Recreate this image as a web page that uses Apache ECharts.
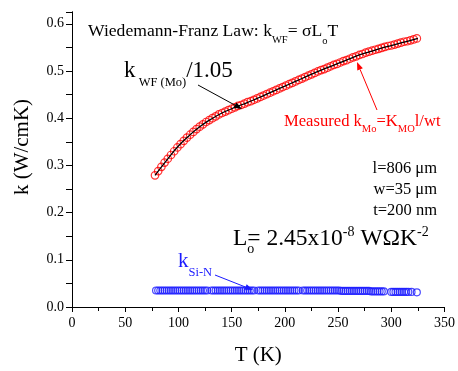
<!DOCTYPE html>
<html>
<head>
<meta charset="utf-8">
<script src="https://cdn.jsdelivr.net/npm/echarts@6/dist/echarts.min.js"></script>
<style>
  html, body { margin: 0; padding: 0; background: #fff; }
  #chart { width: 458px; height: 371px; }
</style>
</head>
<body>
<div id="chart"></div>
<script>
// Measured thermal conductivity of the Mo line, k_Mo (W/cmK) vs T (K)
const moT = [78,81,84,87,90,93,96,99,102,105,108,111,114,117,120,123,126,129,132,135,
  138,141,144,147,150,153,156,159,162,165,168,171,174,177,180,183,186,189,192,195,
  198,201,204,207,210,213,216,219,222,225,228,231,234,237,240,243,246,249,252,255,
  258,261,264,267,270,273,276,279,282,285,288,291,294,297,300,303,306,309,312,315,
  318,321,324];
const moK = [.279,.288,.297,.306,.314,.322,.330,.338,.345,.352,
  .359,.365,.371,.377,.382,.387,.392,.396,.400,.404,
  .408,.411,.414,.417,.420,.423,.426,.428,.431,.434,
  .436,.439,.442,.445,.448,.451,.454,.457,.460,.463,
  .466,.469,.472,.475,.478,.481,.484,.487,.490,.493,
  .496,.499,.502,.504,.507,.510,.513,.515,.518,.521,
  .523,.526,.529,.531,.534,.536,.539,.541,.543,.545,
  .547,.549,.551,.553,.554,.556,.558,.560,.562,.563,
  .565,.567,.569];

// Wiedemann-Franz estimate k_WF(Mo)/1.05
const wfT = [78,90,100,110,120,130,140,150,160,170,180,190,200,210,220,230,240,250,260,270,280,290,300,310,320,325];
const wfK = [.279,.314,.341,.363,.382,.397,.410,.420,.429,.438,.448,.458,.468,.478,.488,.498,.507,.516,.525,.534,.541,.548,.554,.560,.566,.569];

// Silicon nitride membrane, k_Si-N
const sinT = [
  79,81,83,85,87,89,91,93,95,97,99,101,103,105,107,109,111,113,115,117,119,121,123,125,127,
  131,133,135,137,139,141,143,145,147,149,151,153,155,157,159,161,163,165,167,169,171,
  175,177,179,181,183,185,187,189,191,193,195,197,199,201,203,205,207,209,211,213,
  217,219,221,223,225,227,229,231,233,235,237,239,241,243,245,247,249,251,
  253,255,257,259,261,263,265,267,269,271,273,275,277,279,
  281,283,285,287,289,291,293,
  300,302,304,306,308,310,312,314,316,
  319,324];
const sinK = [
  .035,.035,.035,.035,.035,.035,.035,.035,.035,.035,.035,.035,.035,.035,.035,.035,.035,.035,.035,.035,.035,.035,.035,.035,.035,
  .035,.035,.035,.035,.035,.035,.035,.035,.035,.035,.035,.035,.035,.035,.035,.035,.035,.035,.035,.035,.035,
  .035,.035,.035,.035,.035,.035,.035,.035,.035,.035,.035,.035,.035,.035,.035,.035,.035,.035,.035,.035,
  .035,.035,.035,.035,.035,.035,.035,.035,.035,.035,.035,.035,.035,.035,.035,.035,.035,.035,
  .034,.034,.034,.034,.034,.034,.034,.034,.034,.034,.034,.034,.034,.034,
  .033,.033,.033,.033,.033,.033,.033,
  .032,.032,.032,.032,.032,.032,.032,.032,.032,
  .032,.031];

const xTicks = [0, 50, 100, 150, 200, 250, 300, 350];
const yTicks = ['0.0','0.1','0.2','0.3','0.4','0.5','0.6'];

const SERIF = '"Liberation Serif","Times New Roman",serif';
const MID = 0.32; // offset from alphabetic baseline to canvas 'middle'
const mctx = document.createElement('canvas').getContext('2d');
function textWidth(t, s) { mctx.font = s + 'px ' + SERIF; return mctx.measureText(t).width; }

// Lay out a line of text runs (with sub/superscripts) from a baseline
function textRun(x, baseline, parts, color) {
  let cx = x;
  const els = [];
  for (const p of parts) {
    els.push({
      type: 'text', x: cx, y: baseline + (p.dy || 0) - MID * p.s, z: 100,
      style: { text: p.t, font: p.s + 'px ' + SERIF, fill: color, align: 'left', verticalAlign: 'middle' }
    });
    if (!p.keep) cx += textWidth(p.t, p.s);
  }
  return els;
}

function arrow(x1, y1, x2, y2, color) {
  const a = Math.atan2(y2 - y1, x2 - x1), L = 8, W = 3;
  const bx = x2 - L * Math.cos(a), by = y2 - L * Math.sin(a);
  const px = -Math.sin(a) * W, py = Math.cos(a) * W;
  return [
    { type: 'line', z: 100, shape: { x1: x1, y1: y1, x2: bx, y2: by }, style: { stroke: color, lineWidth: 1 } },
    { type: 'polygon', z: 100, shape: { points: [[x2, y2], [bx + px, by + py], [bx - px, by - py]] }, style: { fill: color } }
  ];
}

const pairs = (xs, ys) => xs.map((x, i) => [x, ys[i]]);

const RED = '#ff0000', BLUE = '#1a1aff';

const graphics = [].concat(
  textRun(88, 37.5, [
    { t: 'Wiedemann-Franz Law: k', s: 17.6 },
    { t: 'WF', s: 10.5, dy: 6 },
    { t: '= σL', s: 17.6 },
    { t: 'o', s: 10.5, dy: 7 },
    { t: 'T', s: 17.6 }
  ], '#000'),
  textRun(124, 78, [
    { t: 'k', s: 23 },
    { t: ' WF (Mo)', s: 12.5, dy: 9 },
    { t: '/1.05', s: 23 }
  ], '#000'),
  arrow(198, 85, 242, 109, '#000'),
  textRun(284, 126.5, [
    { t: 'Measured k', s: 16.6 },
    { t: 'Mo', s: 10.5, dy: 6 },
    { t: '=K', s: 16.6 },
    { t: 'MO', s: 10.5, dy: 6 },
    { t: 'l/wt', s: 16.6 }
  ], RED),
  arrow(377, 110, 357, 62, RED),
  textRun(233, 246, [
    { t: 'L', s: 23.5 },
    { t: 'o', s: 14, dy: 8, keep: true },
    { t: '= 2.45x10', s: 23.5 },
    { t: '-8', s: 14, dy: -9.5 },
    { t: ' WΩK', s: 23.5 },
    { t: '-2', s: 14, dy: -9.5 }
  ], '#000'),
  textRun(178, 268.5, [
    { t: 'k', s: 21 },
    { t: 'Si-N', s: 12.5, dy: 8 }
  ], BLUE),
  arrow(215, 275, 253, 290, BLUE),
  [
    { type: 'text', x: 437, y: 173.5 - MID * 16.5, z: 100, style: { text: 'l=806 μm', font: '16.5px ' + SERIF, fill: '#000', align: 'right', verticalAlign: 'middle' } },
    { type: 'text', x: 437, y: 195 - MID * 16.5, z: 100, style: { text: 'w=35 μm', font: '16.5px ' + SERIF, fill: '#000', align: 'right', verticalAlign: 'middle' } },
    { type: 'text', x: 437, y: 215.5 - MID * 16.5, z: 100, style: { text: 't=200 nm', font: '16.5px ' + SERIF, fill: '#000', align: 'right', verticalAlign: 'middle' } },
    { type: 'text', x: 22, y: 147, rotation: Math.PI / 2, z: 100, style: { text: 'k (W/cmK)', font: '21px ' + SERIF, fill: '#000', align: 'center', verticalAlign: 'middle' } }
  ]
);

const axisLine = { show: true, lineStyle: { color: '#000', width: 1 } };
const labelFont = { fontFamily: SERIF, fontSize: 14, color: '#000' };

const chart = echarts.init(document.getElementById('chart'), null, { renderer: 'canvas' });
chart.setOption({
  animation: false,
  backgroundColor: '#fff',
  grid: { left: 72, right: 11, top: 12, bottom: 58, containLabel: false },
  xAxis: [
    {
      type: 'value', position: 'bottom', min: xTicks[0], max: xTicks[xTicks.length - 1], interval: 50,
      axisLine: axisLine,
      axisTick: { show: true, inside: false, length: 5, lineStyle: { color: '#000' } },
      minorTick: { show: true, splitNumber: 2, length: 3, lineStyle: { color: '#000' } },
      splitLine: { show: false },
      axisLabel: Object.assign({ margin: 9 }, labelFont),
      name: 'T (K)', nameLocation: 'middle', nameGap: 38,
      nameTextStyle: { fontFamily: SERIF, fontSize: 21, color: '#000' }
    },
    {
      type: 'value', position: 'top', min: 0, max: 350, interval: 25,
      axisLine: axisLine,
      axisTick: { show: true, inside: true, length: 4, lineStyle: { color: '#000' } },
      axisLabel: { show: false }, splitLine: { show: false }
    }
  ],
  yAxis: [
    {
      type: 'value', position: 'left', min: 0, max: 0.625, interval: 0.1,
      axisLine: axisLine,
      axisTick: { show: true, inside: false, length: 5, lineStyle: { color: '#000' } },
      minorTick: { show: true, splitNumber: 2, length: 3, lineStyle: { color: '#000' } },
      splitLine: { show: false },
      axisLabel: Object.assign({ margin: 8, showMaxLabel: false,
        formatter: v => { const i = Math.round(v * 10); return (Math.abs(v * 10 - i) < 1e-6 && yTicks[i]) ? yTicks[i] : ''; } }, labelFont)
    },
    {
      type: 'value', position: 'right', min: 0, max: 0.625, interval: 0.05,
      axisLine: axisLine,
      axisTick: { show: true, inside: true, length: 6, lineStyle: { color: '#000' } },
      axisLabel: { show: false }, splitLine: { show: false }
    }
  ],
  series: [
    {
      name: 'k_Mo measured', type: 'scatter', data: pairs(moT, moK),
      symbol: 'circle', symbolSize: 7.5, silent: true,
      itemStyle: { color: 'rgba(255,255,255,0)', borderColor: RED, borderWidth: 1.2 }
    },
    {
      name: 'k_WF/1.05', type: 'line', data: pairs(wfT, wfK), smooth: true,
      showSymbol: false, silent: true, z: 5,
      lineStyle: { color: '#000', width: 1.3 }
    },
    {
      name: 'k_Si-N', type: 'scatter', data: pairs(sinT, sinK),
      symbol: 'circle', symbolSize: 7, silent: true,
      itemStyle: { color: 'rgba(255,255,255,0)', borderColor: BLUE, borderWidth: 1.2 }
    }
  ],
  graphic: graphics
});
</script>
</body>
</html>
